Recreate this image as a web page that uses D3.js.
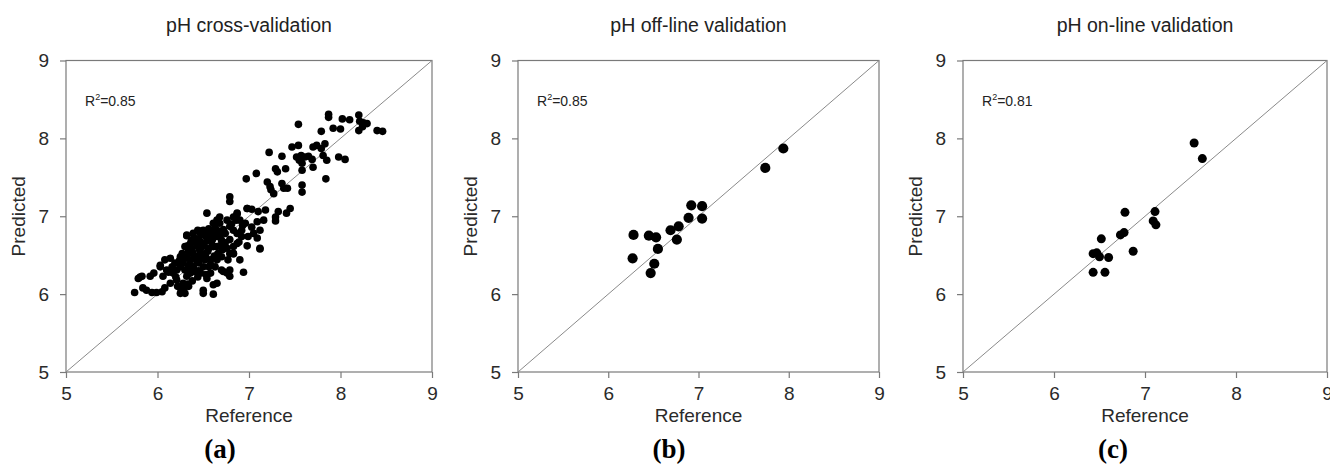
<!DOCTYPE html>
<html><head><meta charset="utf-8">
<script src="https://cdn.jsdelivr.net/npm/d3@7"></script>
<style>body{margin:0;background:#fff}svg{display:block}</style>
</head><body>
<svg id="c" width="1330" height="466"></svg>
<script>
// ---- data ----
const ticks = [5, 6, 7, 8, 9];
const titles = ["pH cross-validation", "pH off-line validation", "pH on-line validation"];
const r2Values = ["0.85", "0.85", "0.81"];
const panelLabels = ["a", "b", "c"];

const cvRef = [7.87,7.87,8.02,8.10,8.20,8.21,8.25,8.29,8.20,8.24,8.40,8.46,7.92,8.00,7.79,7.54,7.81,7.70,7.74,7.83,7.79,7.54,7.47,7.36,7.52,7.57,7.61,7.65,7.55,7.58,7.69,7.70,7.58,7.85,7.98,8.05,7.84,7.58,7.58,7.22,7.08,6.97,7.29,7.31,7.40,7.36,7.38,7.42,7.20,7.23,7.24,7.27,6.79,6.79,7.45,7.41,7.32,7.29,7.29,7.18,7.10,6.98,7.03,7.16,7.09,7.12,7.05,6.99,7.09,7.12,6.98,6.94,6.54,6.65,6.68,6.87,6.83,6.90,6.76,6.79,6.83,6.87,6.74,6.79,6.89,6.83,6.76,6.79,6.77,6.70,6.79,6.76,6.79,6.70,6.65,6.61,6.61,6.50,6.50,6.54,6.58,6.63,6.65,6.58,6.52,6.61,6.54,6.47,6.50,6.56,6.61,6.65,6.58,6.47,6.44,6.39,6.47,6.45,6.50,6.39,6.36,6.32,6.30,6.32,6.37,6.39,6.44,6.25,6.27,6.25,6.30,6.32,6.28,6.26,6.25,6.30,6.34,6.21,6.22,6.17,6.16,6.19,6.14,6.08,6.10,6.06,6.14,6.08,6.05,5.99,6.03,5.96,5.92,5.83,5.79,5.75,5.84,5.88,5.94,6.90,6.65,6.70,6.92,6.96,7.03,6.37,6.34,6.42,6.49,6.56,6.59,6.52,6.45,6.36,6.41,6.47,6.36,6.28,6.34,6.21,6.56,6.52,6.69,6.70,6.83,6.87,6.92,6.65,6.61,6.68,
  6.33,6.38,6.42,6.46,6.51,6.55,6.43,6.48,6.53,6.40,6.45,6.35,6.29,6.24,6.27,6.60,6.57,6.63,6.68,6.72,6.74,6.71,6.66,6.62,6.58,6.53,6.44,6.38,6.33,6.29,6.20,6.12,6.40,6.48,6.81,6.86,6.93,6.32,6.87,6.98,7.12,6.03,5.81,6.72,6.83];
const cvPred = [8.31,8.27,8.25,8.24,8.30,8.22,8.20,8.19,8.10,8.15,8.10,8.09,8.13,8.12,8.09,8.18,7.78,7.89,7.91,7.93,7.87,7.91,7.89,7.77,7.76,7.78,7.76,7.77,7.72,7.68,7.73,7.63,7.59,7.72,7.76,7.73,7.48,7.40,7.31,7.82,7.55,7.48,7.61,7.57,7.61,7.42,7.36,7.36,7.44,7.38,7.34,7.29,7.25,7.19,7.10,7.04,7.06,6.99,6.94,7.08,7.06,7.10,7.09,6.95,6.93,6.82,6.78,6.74,6.72,6.58,6.62,6.28,7.04,6.95,6.91,7.04,6.99,6.95,6.95,6.87,6.82,6.78,6.78,6.70,6.67,6.61,6.59,6.52,6.44,6.48,6.31,6.27,6.23,6.31,6.14,6.12,6.00,6.01,6.05,6.20,6.27,6.35,6.44,6.44,6.52,6.61,6.69,6.78,6.82,6.84,6.78,6.74,6.74,6.67,6.61,6.52,6.52,6.40,6.35,6.35,6.44,6.48,6.61,6.75,6.69,6.78,6.82,6.48,6.40,6.35,6.31,6.23,6.14,6.05,6.01,6.01,6.10,6.18,6.10,6.27,6.35,6.40,6.46,6.44,6.31,6.23,6.14,6.08,6.03,6.02,6.35,6.27,6.23,6.23,6.20,6.02,6.08,6.05,6.02,6.44,6.61,6.69,6.82,6.91,6.86,6.59,6.55,6.48,6.61,6.59,6.67,6.75,6.71,6.65,6.29,6.27,6.27,6.40,6.35,6.31,6.35,6.44,6.78,6.63,6.52,6.65,6.74,6.82,6.91,6.99,
  6.62,6.55,6.66,6.57,6.63,6.55,6.42,6.45,6.47,6.32,6.30,6.38,6.45,6.43,6.52,6.70,6.80,6.85,6.74,6.83,6.66,6.57,6.52,6.49,6.38,6.25,6.22,6.17,6.13,6.08,6.22,6.28,6.72,6.81,6.90,6.95,6.88,6.76,7.03,7.10,6.59,6.37,6.22,6.29,6.52];

const offRef = [6.28,6.27,6.45,6.53,6.55,6.51,6.47,6.69,6.78,6.76,6.89,6.92,7.04,7.04,7.74,7.94];
const offPred = [6.76,6.46,6.75,6.73,6.58,6.39,6.27,6.82,6.87,6.70,6.98,7.14,7.13,6.97,7.62,7.87];

const onRef = [7.54,7.63,6.78,7.11,7.09,7.12,6.73,6.77,6.52,6.87,6.43,6.47,6.50,6.60,6.43,6.56];
const onPred = [7.94,7.74,7.05,7.06,6.94,6.89,6.76,6.79,6.71,6.55,6.52,6.53,6.48,6.47,6.28,6.28];

// ---- layout ----
const svg = d3.select("#c");
const font = "'Liberation Sans', Arial, sans-serif";
const plotTop = 60.5, plotBottom = 372;
const panels = [
  {left: 66, right: 432, ref: cvRef, pred: cvPred, r: 3.8, labelX: 220},
  {left: 518, right: 879, ref: offRef, pred: offPred, r: 5.1, labelX: 669},
  {left: 963, right: 1327, ref: onRef, pred: onPred, r: 4.5, labelX: 1113}
];
const gray = "#7a7a7a";

panels.forEach((p, i) => {
  const x = d3.scaleLinear().domain([5, 9]).range([p.left, p.right]);
  const y = d3.scaleLinear().domain([5, 9]).range([plotBottom, plotTop]);
  const g = svg.append("g");

  const xa = g.append("g").attr("transform", `translate(0,${plotBottom})`)
    .call(d3.axisBottom(x).tickValues(ticks).tickSize(6).tickPadding(9).tickFormat(d3.format("d")));
  const ya = g.append("g").attr("transform", `translate(${p.left},0)`)
    .call(d3.axisLeft(y).tickValues(ticks).tickSize(6).tickPadding(11).tickFormat(d3.format("d")));
  [xa, ya].forEach(a => {
    a.select(".domain").remove();
    a.selectAll("line").attr("stroke", gray).attr("stroke-width", 1.2);
    a.selectAll("text").attr("font-family", font).attr("font-size", 19).attr("fill", "#2a2a2a");
  });

  g.append("rect").attr("x", p.left).attr("y", plotTop)
    .attr("width", p.right - p.left).attr("height", plotBottom - plotTop)
    .attr("fill", "none").attr("stroke", gray).attr("stroke-width", 1.2);

  g.append("line").attr("x1", x(5)).attr("y1", y(5)).attr("x2", x(9)).attr("y2", y(9))
    .attr("stroke", "#8a8a8a").attr("stroke-width", 1);

  g.append("g").selectAll("circle").data(p.ref.map((v, k) => [v, p.pred[k]]))
    .join("circle").attr("cx", d => x(d[0])).attr("cy", d => y(d[1])).attr("r", p.r).attr("fill", "#000");

  const rt = g.append("text").attr("x", p.left + 19).attr("y", 106)
    .attr("font-family", font).attr("font-size", 14).attr("fill", "#222");
  rt.append("tspan").text("R");
  rt.append("tspan").attr("dy", -6).attr("font-size", 9).text("2");
  rt.append("tspan").attr("dy", 6).text("=" + r2Values[i]);

  g.append("text").attr("x", (p.left + p.right) / 2).attr("y", 32)
    .attr("text-anchor", "middle").attr("font-family", font).attr("font-size", 19.5).attr("fill", "#222")
    .text(titles[i]);

  g.append("text").attr("x", (p.left + p.right) / 2).attr("y", 422)
    .attr("text-anchor", "middle").attr("font-family", font).attr("font-size", 19).attr("fill", "#2a2a2a")
    .text("Reference");
  g.append("text").attr("transform", `translate(${p.left - 41},${(plotTop + plotBottom) / 2}) rotate(-90)`)
    .attr("text-anchor", "middle").attr("font-family", font).attr("font-size", 19).attr("fill", "#2a2a2a")
    .text("Predicted");

  g.append("text").attr("x", p.labelX).attr("y", 458).attr("text-anchor", "middle")
    .attr("font-family", "'Liberation Serif', 'Times New Roman', serif").attr("font-size", 27)
    .attr("font-weight", "bold").attr("fill", "#000")
    .text("(" + panelLabels[i] + ")");
});
</script>
</body></html>
